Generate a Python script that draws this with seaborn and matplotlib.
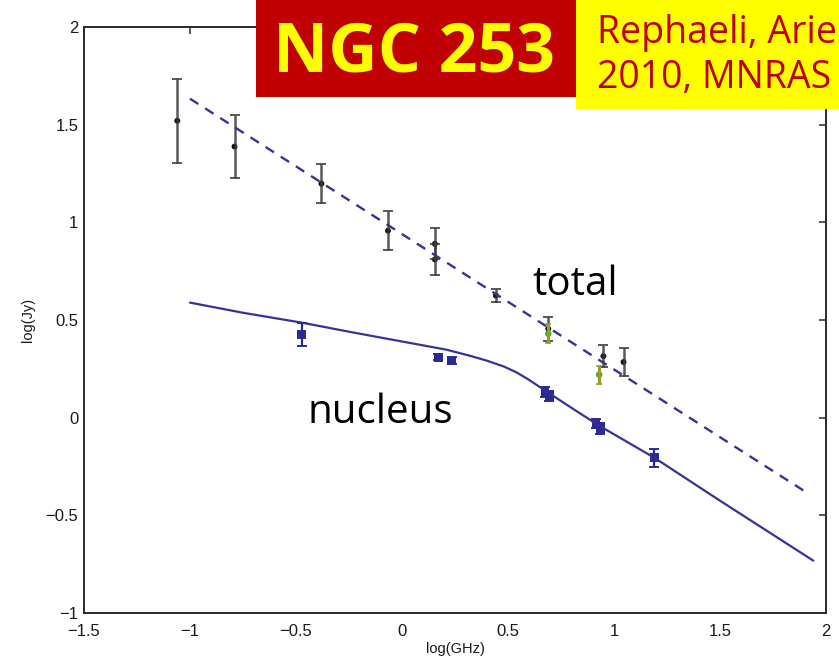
import matplotlib
matplotlib.use("Agg")
import matplotlib.pyplot as plt
from matplotlib.patches import Rectangle
from matplotlib.ticker import FuncFormatter
import numpy as np
import seaborn as sns

# Total radio flux measurements: log(nu / GHz), log(S / Jy), 1-sigma error
total_x = [-1.06, -0.79, -0.38, -0.066, 0.155, 0.155, 0.443, 0.69, 0.95, 1.045]
total_y = [1.52, 1.388, 1.198, 0.957, 0.89, 0.81, 0.625, 0.455, 0.315, 0.285]
total_err = [0.215, 0.163, 0.10, 0.10, 0.08, 0.08, 0.035, 0.06, 0.058, 0.072]

# Additional total-flux points (green)
green_x = [0.69, 0.93]
green_y = [0.43, 0.22]
green_err = [0.05, 0.046]

# Nucleus measurements
nuc_x = [-0.473, 0.171, 0.234, 0.675, 0.695, 0.915, 0.935, 1.19]
nuc_y = [0.425, 0.309, 0.292, 0.13, 0.11, -0.03, -0.055, -0.205]
nuc_err = [0.06, 0.015, 0.018, 0.025, 0.025, 0.025, 0.03, 0.045]

# Power-law fit to the total flux (dashed)
fit_x = [-1.0, 1.91]
fit_y = [1.633, -0.384]

# Model curve for the nucleus (solid)
model_x = [-1.0, -0.75, -0.47, -0.25, -0.1, 0.05, 0.21, 0.32, 0.40, 0.48,
           0.54, 0.60, 0.68, 0.80, 0.93, 1.19, 1.5, 1.94]
model_y = [0.589, 0.537, 0.486, 0.44, 0.41, 0.38, 0.348, 0.317, 0.292, 0.262,
           0.232, 0.193, 0.135, 0.05, -0.041, -0.205, -0.425, -0.732]

x_ticks = [-1.5, -1, -0.5, 0, 0.5, 1, 1.5, 2]
y_ticks = [-1, -0.5, 0, 0.5, 1, 1.5, 2]

BLUE = "#35339a"
NUC = "#2c2a8c"
GRAY = "#3c3c3c"

sns.set_theme(style="white")
plt.rcParams["font.family"] = ["Liberation Sans", "DejaVu Sans"]

W, H = 839, 667
fig = plt.figure(figsize=(W / 100, H / 100), dpi=100)
ax = fig.add_axes([84 / W, (H - 613) / H, (826 - 84) / W, (613 - 27) / H])

# model curves
sns.lineplot(x=model_x, y=model_y, ax=ax, color=BLUE, linewidth=1.6, sort=False)
sns.lineplot(x=fit_x, y=fit_y, ax=ax, color=BLUE, linewidth=1.7, sort=False)
ax.lines[-1].set_dashes((4.2, 3.4))

# total flux points
ax.errorbar(total_x, total_y, yerr=total_err, fmt="none", ecolor=GRAY,
            elinewidth=1.8, capsize=3.5, capthick=1.4, alpha=0.85)
sns.scatterplot(x=total_x, y=total_y, ax=ax, color="#111111", s=18,
                marker="o", edgecolor="none")

# green points
ax.errorbar(green_x, green_y, yerr=green_err, fmt="none", ecolor="#9a9a2a",
            elinewidth=2.2, capsize=2, capthick=1.2)
sns.scatterplot(x=green_x, y=green_y, ax=ax, color="#22bb22", s=22,
                marker="o", edgecolor="none")

# nucleus points
ax.errorbar(nuc_x, nuc_y, yerr=nuc_err, fmt="none", ecolor=NUC,
            elinewidth=1.6, capsize=3.5, capthick=1.4)
sns.scatterplot(x=nuc_x, y=nuc_y, ax=ax, color=NUC, s=38, marker="s",
                edgecolor="none")

ax.set_xlim(-1.5, 2)
ax.set_ylim(-1, 2)
ax.set_xticks(x_ticks)
ax.set_yticks(y_ticks)
fmt = FuncFormatter(lambda v, p: ("%g" % v).replace("-", "\u2212"))
ax.xaxis.set_major_formatter(fmt)
ax.yaxis.set_major_formatter(fmt)
ax.tick_params(direction="in", length=5, width=1.1, top=True, right=True,
               labelsize=12, color="#2a2a2a", labelcolor="#1a1a1a")
ax.tick_params(axis="x", pad=8)
ax.tick_params(axis="y", pad=4)
for sp in ax.spines.values():
    sp.set_visible(True)
    sp.set_color("#2a2a2a")
    sp.set_linewidth(1.4)

ax.set_xlabel("log(GHz)", fontsize=10.5, labelpad=2, color="#1a1a1a")
ax.set_ylabel("log(Jy)", fontsize=10.5, labelpad=8, color="#1a1a1a")

# curve labels
ax.text(0.613, 0.63, "total", family=["Open Sans", "DejaVu Sans"],
        fontsize=29, color="black", va="baseline", ha="left")
ax.text(-0.448, -0.026, "nucleus", family=["Open Sans", "DejaVu Sans"],
        fontsize=29, color="black", va="baseline", ha="left")

# title banners
fig.patches.append(Rectangle((256 / W, 1 - 97 / H), (576 - 256) / W, 97 / H,
                             transform=fig.transFigure, facecolor="#c00000",
                             edgecolor="none", zorder=5))
fig.patches.append(Rectangle((576 / W, 1 - 109 / H), (W - 576) / W, 109 / H,
                             transform=fig.transFigure, facecolor="#ffff00",
                             edgecolor="none", zorder=5))
fig.text(414 / W, 1 - 72 / H, "NGC 253", family=["Open Sans", "DejaVu Sans"],
         fontweight="bold", fontsize=49, color="#ffff00", ha="center",
         va="baseline", zorder=6)
fig.text(597 / W, 1 - 43 / H, "Rephaeli, Arie",
         family=["Open Sans", "DejaVu Sans"], fontsize=27, color="#c00000",
         ha="left", va="baseline", zorder=6)
fig.text(597 / W, 1 - 88 / H, "2010, MNRAS",
         family=["Open Sans", "DejaVu Sans"], fontsize=27, color="#c00000",
         ha="left", va="baseline", zorder=6)

fig.savefig("out.png", dpi=100)
